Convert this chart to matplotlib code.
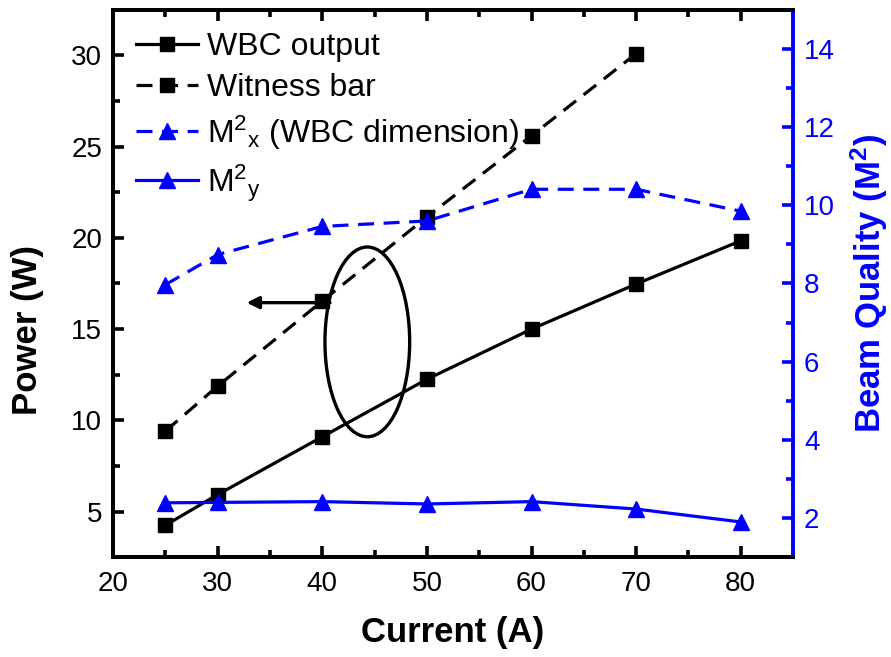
import matplotlib
matplotlib.use("Agg")
import matplotlib.pyplot as plt
from matplotlib.patches import Ellipse
from matplotlib.ticker import MultipleLocator

plt.rcParams['font.family'] = ['Liberation Sans', 'DejaVu Sans']
plt.rcParams['mathtext.fontset'] = 'custom'
plt.rcParams['mathtext.rm'] = 'Liberation Sans'
plt.rcParams['mathtext.it'] = 'Liberation Sans'
plt.rcParams['mathtext.bf'] = 'Liberation Sans:bold'

current_wbc = [25, 30, 40, 50, 60, 70, 80]
power_wbc = [4.25, 5.93, 9.1, 12.25, 15.0, 17.47, 19.84]
current_bar = [25, 30, 40, 50, 60, 70]
power_bar = [9.41, 11.88, 16.54, 21.15, 25.6, 30.1]
current_m2 = [25, 30, 40, 50, 60, 70, 80]
m2x = [7.97, 8.74, 9.46, 9.6, 10.41, 10.41, 9.85]
m2y = [2.39, 2.4, 2.42, 2.36, 2.42, 2.23, 1.9]

blue = '#0000FF'
fig = plt.figure(figsize=(8.91, 6.57), dpi=100)
ax = fig.add_axes([0.127, 0.152, 0.763, 0.833])
ax2 = ax.twinx()

l1, = ax.plot(current_wbc, power_wbc, '-', color='black', lw=2.3, marker='s', ms=10, label='WBC output')
l2, = ax.plot(current_bar, power_bar, '--', color='black', lw=2.3, marker='s', ms=10, dashes=(5, 3), label='Witness bar')
l3, = ax2.plot(current_m2, m2x, '--', color=blue, lw=2.3, marker='^', ms=11, dashes=(5, 3), label=r'M$^{2}$$_{x}$ (WBC dimension)')
l4, = ax2.plot(current_m2, m2y, '-', color=blue, lw=2.3, marker='^', ms=11, label=r'M$^{2}$$_{y}$')

ax.set_xlim(20, 85)
ax.set_ylim(2.5, 32.5)
ax2.set_ylim(1, 15)

ax.xaxis.set_major_locator(MultipleLocator(10))
ax.xaxis.set_minor_locator(MultipleLocator(5))
ax.yaxis.set_major_locator(MultipleLocator(5))
ax.yaxis.set_minor_locator(MultipleLocator(2.5))
ax2.yaxis.set_major_locator(MultipleLocator(2))
ax2.yaxis.set_minor_locator(MultipleLocator(1))

ax.tick_params(axis='x', which='both', direction='in', top=True, bottom=True, width=2.6, labelsize=20, pad=10)
ax.tick_params(axis='x', which='major', length=8)
ax.tick_params(axis='x', which='minor', length=5)
ax.tick_params(axis='y', which='both', direction='in', left=True, right=False, width=2.6, labelsize=20, pad=8)
ax.tick_params(axis='y', which='major', length=8)
ax.tick_params(axis='y', which='minor', length=5)
ax2.tick_params(axis='y', which='both', direction='in', right=True, left=False, width=2.6, labelsize=20,
                colors=blue, pad=8)
ax2.tick_params(axis='y', which='major', length=8)
ax2.tick_params(axis='y', which='minor', length=5)

for s in ['left', 'bottom', 'top']:
    ax.spines[s].set_linewidth(2.8)
    ax2.spines[s].set_linewidth(2.8)
ax2.spines['right'].set_linewidth(2.8)
ax2.spines['right'].set_color(blue)
ax.spines['right'].set_visible(False)

ax.set_xlabel('Current (A)', fontsize=25, fontweight='bold', labelpad=14)
ax.set_ylabel('Power (W)', fontsize=25, fontweight='bold')
ax.yaxis.set_label_coords(-0.102, 0.415)
ax2.set_ylabel(r'Beam Quality (M$^{\mathbf{2}}$)', fontsize=25, fontweight='bold', color=blue, labelpad=10)

ell = Ellipse((44.3, 14.3), 8.1, 10.4, fill=False, edgecolor='black', lw=2.4)
ax.add_patch(ell)
ax.annotate('', xy=(32.5, 16.45), xytext=(41, 16.45),
            arrowprops=dict(arrowstyle='-|>', color='black', lw=2.4, mutation_scale=18))

leg = ax2.legend(handles=[l1, l2, l3, l4], loc='upper left', frameon=False, fontsize=23,
                 handlelength=1.95, handletextpad=0.3, labelspacing=0.33,
                 bbox_to_anchor=(0.0, 1.0), borderaxespad=0.3)

fig.savefig('out.png', dpi=100)
